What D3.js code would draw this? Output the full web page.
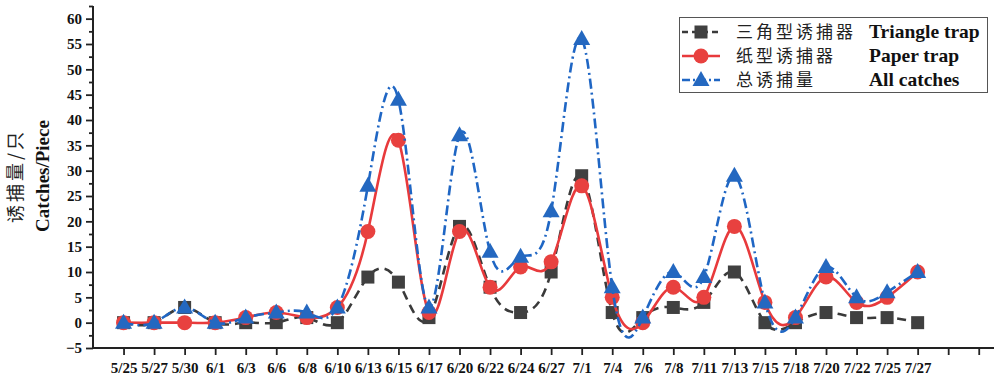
<!DOCTYPE html>
<html><head><meta charset="utf-8">
<script src="https://cdn.jsdelivr.net/npm/d3@7"></script>
<style>
body{margin:0;background:#fff;}
svg{display:block;}
</style></head>
<body>
<svg id="chart" width="1000" height="379"></svg>
<script>
const categories = ["5/25","5/27","5/30","6/1","6/3","6/6","6/8","6/10","6/13","6/15","6/17","6/20","6/22","6/24","6/27","7/1","7/4","7/6","7/8","7/11","7/13","7/15","7/18","7/20","7/22","7/25","7/27"];
const triangleTrap = [0,0,3,0,0,0,1,0,9,8,1,19,7,2,10,29,2,1,3,4,10,0,0,2,1,1,0];
const paperTrap    = [0,0,0,0,1,2,1,3,18,36,2,18,7,11,12,27,5,0,7,5,19,4,1,9,4,5,10];
const allCatches   = [0,0,3,0,1,2,2,3,27,44,3,37,14,13,22,56,7,1,10,9,29,4,1,11,5,6,10];
const yTickValues = [-5,0,5,10,15,20,25,30,35,40,45,50,55,60];
const legendCN = ["三角型诱捕器","纸型诱捕器","总诱捕量"];
const legendEN = ["Triangle trap","Paper trap","All catches"];

const svg = d3.select("#chart");
const serif = "'Liberation Serif','Times New Roman',serif";
const cjk = "'Noto Sans CJK SC','Noto Sans CJK JP',sans-serif";

const x = d3.scaleLinear().domain([-1, 28.5]).range([93, 994]);
const y = d3.scaleLinear().domain([-5, 62.5]).range([348, 6]);

// Y axis
const yAxis = d3.axisLeft(y).tickValues(yTickValues).tickSize(7).tickPadding(4).tickFormat(d3.format("d"));
const yMinor = d3.axisLeft(y).tickValues(d3.range(-2.5, 62.6, 5)).tickSize(4).tickFormat("");
const gy = svg.append("g").attr("transform","translate(93,0)").call(yAxis);
const gym = svg.append("g").attr("transform","translate(93,0)").call(yMinor);
gym.select(".domain").remove();
// X axis
const xTicks = d3.range(0, 29);
const xAxis = d3.axisBottom(x).tickValues(xTicks).tickSize(7).tickPadding(7)
  .tickFormat(i => categories[i] || "");
const gx = svg.append("g").attr("transform","translate(0,348)").call(xAxis);

[gy, gym, gx].forEach(g => {
  g.select(".domain").attr("stroke","#222").attr("stroke-width",2);
  g.selectAll(".tick line").attr("stroke","#222").attr("stroke-width",1.8);
  g.selectAll("text").attr("font-family",serif).attr("font-weight","bold")
   .attr("font-size",15).attr("fill","#111");
});
gy.select(".domain").attr("d","M0,6V348");
gx.select(".domain").attr("d","M93,0H994");

// Y label
const yl = svg.append("g").attr("transform","translate(0,176) rotate(-90)");
yl.append("text").attr("x",0).attr("y",22).attr("text-anchor","middle")
  .attr("font-family",cjk).attr("font-size",18).attr("letter-spacing","3px")
  .attr("font-weight",400).attr("fill","#222").text("诱捕量/只");
yl.append("text").attr("x",0).attr("y",49).attr("text-anchor","middle")
  .attr("font-family",serif).attr("font-weight","bold").attr("font-size",19)
  .attr("fill","#111").text("Catches/Piece");

const series = [
  {data: triangleTrap, color:"#3a3a3a", markColor:"#404040", dash:"9,6", shape:"square"},
  {data: paperTrap, color:"#e83a3c", markColor:"#e8413f", dash:null, shape:"circle"},
  {data: allCatches, color:"#1f66c4", markColor:"#2468c0", dash:"10,4,2,4", shape:"triangle"}
];

const line = d3.line().x((d,i)=>x(i)).y(d=>y(d)).curve(d3.curveNatural);

function drawMarker(g, shape, cx, cy, color){
  if(shape==="square"){
    g.append("rect").attr("x",cx-6.5).attr("y",cy-6.5).attr("width",13).attr("height",13).attr("fill",color);
  } else if(shape==="circle"){
    g.append("circle").attr("cx",cx).attr("cy",cy).attr("r",7.5).attr("fill",color);
  } else {
    g.append("path").attr("d",`M${cx},${cy-9}L${cx+8.5},${cy+6}L${cx-8.5},${cy+6}Z`).attr("fill",color);
  }
}

series.forEach(s => {
  const g = svg.append("g");
  g.append("path").attr("d", line(s.data)).attr("fill","none")
    .attr("stroke",s.color).attr("stroke-width",2.6)
    .attr("stroke-dasharray", s.dash);
  s.data.forEach((v,i)=> drawMarker(g, s.shape, x(i), y(v), s.markColor));
});

// Legend
const lg = svg.append("g");
lg.append("rect").attr("x",679.5).attr("y",17.5).attr("width",308).attr("height",75)
  .attr("fill","#fff").attr("stroke","#555").attr("stroke-width",1);
const rowY = [32, 56, 80];
series.forEach((s,i)=>{
  lg.append("line").attr("x1",682).attr("x2",720).attr("y1",rowY[i]).attr("y2",rowY[i])
    .attr("stroke",s.color).attr("stroke-width",2.6)
    .attr("stroke-dasharray", s.dash ? (i===0 ? "6,4" : "8,3,2,3") : null);
  drawMarker(lg, s.shape, 701, rowY[i], s.markColor);
  lg.append("text").attr("x",736).attr("y",rowY[i]+6).attr("font-family",cjk)
    .attr("font-size",17).attr("letter-spacing","3px").attr("font-weight",400)
    .attr("fill","#222").text(legendCN[i]);
  lg.append("text").attr("x",869).attr("y",rowY[i]+6).attr("font-family",serif)
    .attr("font-weight","bold").attr("font-size",19.5).attr("fill","#111").text(legendEN[i]);
});
</script>
</body></html>
